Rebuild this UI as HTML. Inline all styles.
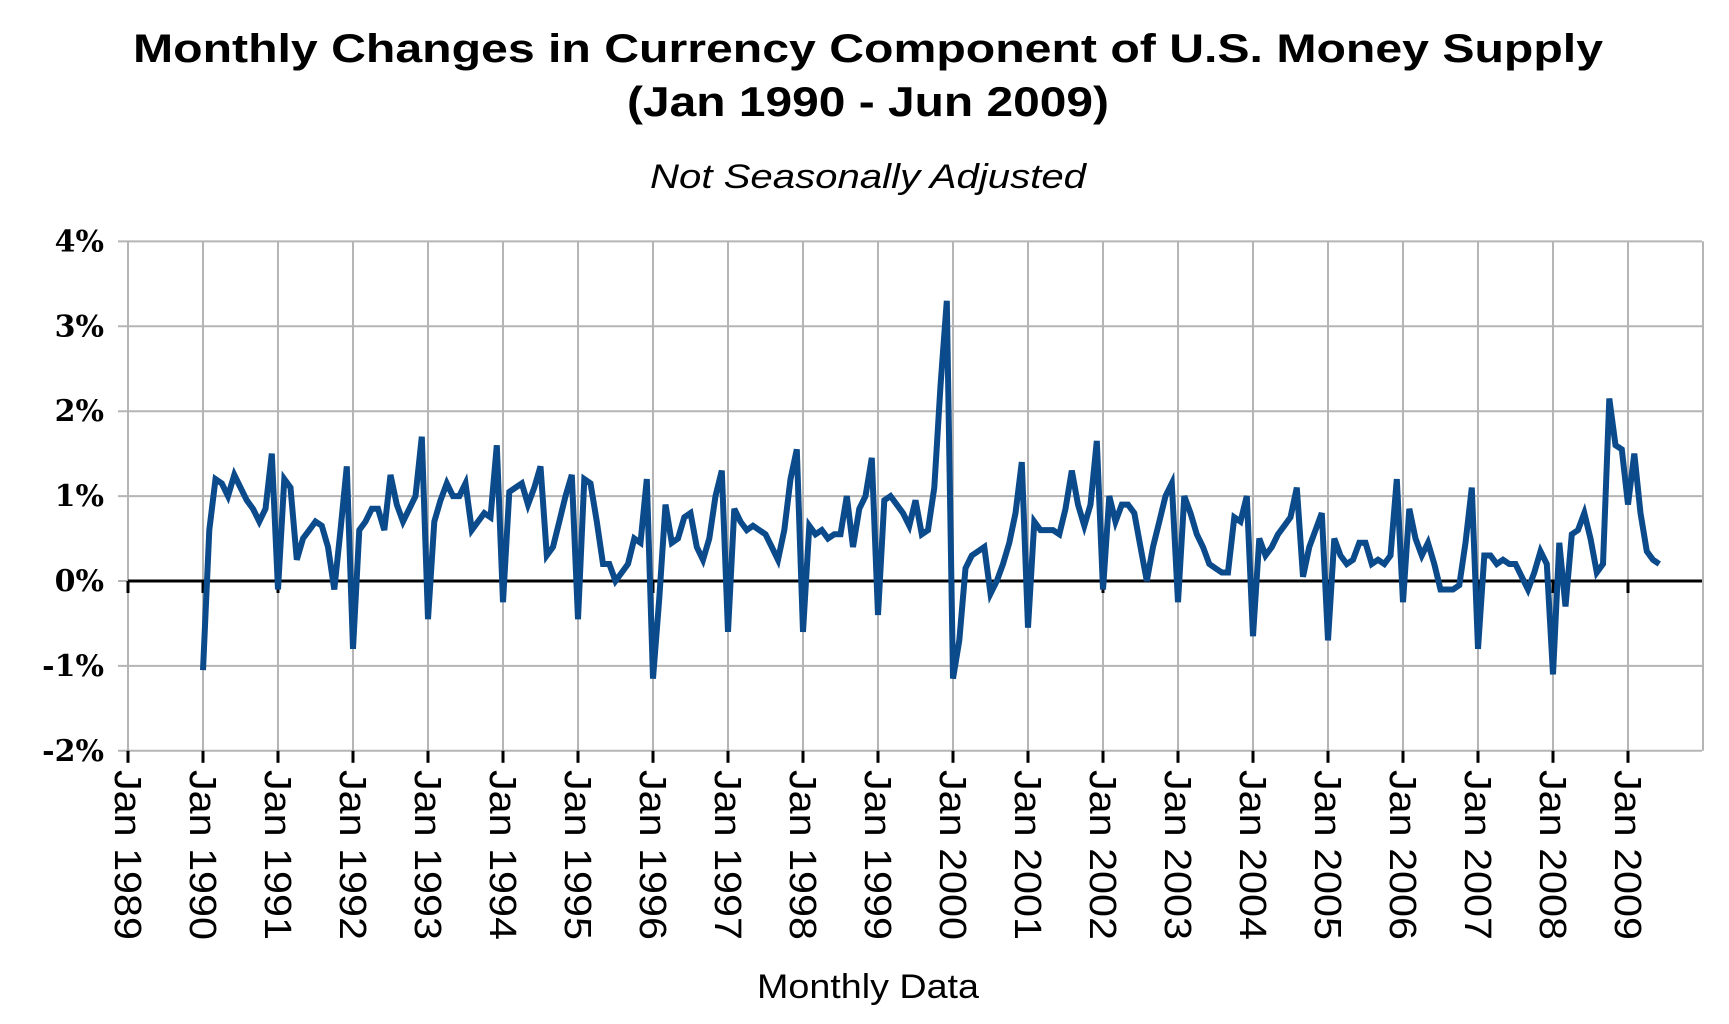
<!DOCTYPE html>
<html><head><meta charset="utf-8"><style>
html,body{margin:0;padding:0;background:#fff;}
svg{display:block;}
</style></head><body>
<svg id="c" width="1729" height="1024" xmlns="http://www.w3.org/2000/svg">
<rect width="1729" height="1024" fill="#fff"/>
<text x="868" y="62" text-anchor="middle" font-family="Liberation Sans, sans-serif" font-weight="bold" font-size="40" textLength="1470" lengthAdjust="spacingAndGlyphs">Monthly Changes in Currency Component of U.S. Money Supply</text>
<text x="868" y="116" text-anchor="middle" font-family="Liberation Sans, sans-serif" font-weight="bold" font-size="42" textLength="482" lengthAdjust="spacingAndGlyphs">(Jan 1990 - Jun 2009)</text>
<text x="868" y="188" text-anchor="middle" font-family="Liberation Sans, sans-serif" font-style="italic" font-size="34" textLength="436" lengthAdjust="spacingAndGlyphs">Not Seasonally Adjusted</text>
<text x="868" y="998" text-anchor="middle" font-family="Liberation Sans, sans-serif" font-size="34" textLength="222" lengthAdjust="spacingAndGlyphs">Monthly Data</text>
<g id="grid"></g>
<g id="ylab" font-family="DejaVu Serif, Liberation Serif, serif" font-weight="bold" font-size="30" text-anchor="end"></g>
<g id="xlab" font-family="Liberation Sans, sans-serif" font-size="38"></g>
<polyline id="ln" fill="none" stroke="#0b4a8b" stroke-width="6" stroke-linejoin="miter"/>
</svg>
<script>
var NS="http://www.w3.org/2000/svg";
var L=128,R=1702,YR=75,Y0=581,P=84.9;
function y(v){return Y0-v*P;}
function el(t,a,p,txt){var e=document.createElementNS(NS,t);for(var k in a)e.setAttribute(k,a[k]);if(txt)e.textContent=txt;p.appendChild(e);return e;}
var g=document.getElementById('grid');
for(var v=-2;v<=4;v++){el('line',{x1:L-10,x2:R,y1:y(v),y2:y(v),stroke:'#b5b5b5','stroke-width':2},g);
 el('text',{x:104,y:y(v)+10},document.getElementById('ylab'),v+'%');}
var xl=document.getElementById('xlab');
for(var i=0;i<=21;i++){var x=L+i*YR;
 el('line',{x1:x,x2:x,y1:y(4),y2:y(-2),stroke:'#b5b5b5','stroke-width':2},g);
 if(i<=20){el('line',{x1:x,x2:x,y1:y(-2),y2:y(-2)+12,stroke:'#000','stroke-width':3},g);
 el('line',{x1:x,x2:x,y1:Y0,y2:Y0+12,stroke:'#000','stroke-width':3},g);
 var t=el('text',{x:0,y:0,transform:'translate('+(x-13)+',770) rotate(90)',textLength:170,lengthAdjust:'spacingAndGlyphs'},xl,'Jan '+(1989+i));}
}
el('line',{x1:L,x2:R,y1:Y0,y2:Y0,stroke:'#000','stroke-width':3},g);
var d=[
-1.05,0.6,1.2,1.15,1.0,1.25,1.1,0.95,0.85,0.7,0.85,1.5,
-0.1,1.2,1.1,0.25,0.5,0.6,0.7,0.65,0.4,-0.1,0.6,1.35,
-0.8,0.6,0.7,0.85,0.85,0.6,1.25,0.9,0.7,0.85,1.0,1.7,
-0.45,0.7,0.95,1.15,1.0,1.0,1.15,0.6,0.7,0.8,0.75,1.6,
-0.25,1.05,1.1,1.15,0.9,1.1,1.35,0.3,0.4,0.7,1.0,1.25,
-0.45,1.2,1.15,0.7,0.2,0.2,0.0,0.1,0.2,0.5,0.45,1.2,
-1.15,-0.2,0.9,0.45,0.5,0.75,0.8,0.4,0.25,0.5,1.0,1.3,
-0.6,0.85,0.7,0.6,0.65,0.6,0.55,0.4,0.25,0.6,1.2,1.55,
-0.6,0.65,0.55,0.6,0.5,0.55,0.55,1.0,0.4,0.85,1.0,1.45,
-0.4,0.95,1.0,0.9,0.8,0.65,0.95,0.55,0.6,1.1,2.3,3.3,
-1.15,-0.7,0.15,0.3,0.35,0.4,-0.15,0.0,0.2,0.45,0.8,1.4,
-0.55,0.7,0.6,0.6,0.6,0.55,0.85,1.3,0.9,0.65,0.9,1.65,
-0.1,1.0,0.7,0.9,0.9,0.8,0.4,0.0,0.4,0.7,1.0,1.15,
-0.25,1.0,0.8,0.55,0.4,0.2,0.15,0.1,0.1,0.75,0.7,1.0,
-0.65,0.5,0.3,0.4,0.55,0.65,0.75,1.1,0.05,0.4,0.6,0.8,
-0.7,0.5,0.3,0.2,0.25,0.45,0.45,0.2,0.25,0.2,0.3,1.2,
-0.25,0.85,0.5,0.3,0.45,0.2,-0.1,-0.1,-0.1,-0.05,0.45,1.1,
-0.8,0.3,0.3,0.2,0.25,0.2,0.2,0.05,-0.1,0.1,0.35,0.2,
-1.1,0.45,-0.3,0.55,0.6,0.8,0.5,0.1,0.2,2.15,1.6,1.55,
0.9,1.5,0.8,0.35,0.25,0.2];
var pts=[];
for(var k=0;k<d.length;k++){pts.push((L+YR+k*YR/12).toFixed(1)+','+y(d[k]).toFixed(1));}
document.getElementById('ln').setAttribute('points',pts.join(' '));
</script>
</body></html>
